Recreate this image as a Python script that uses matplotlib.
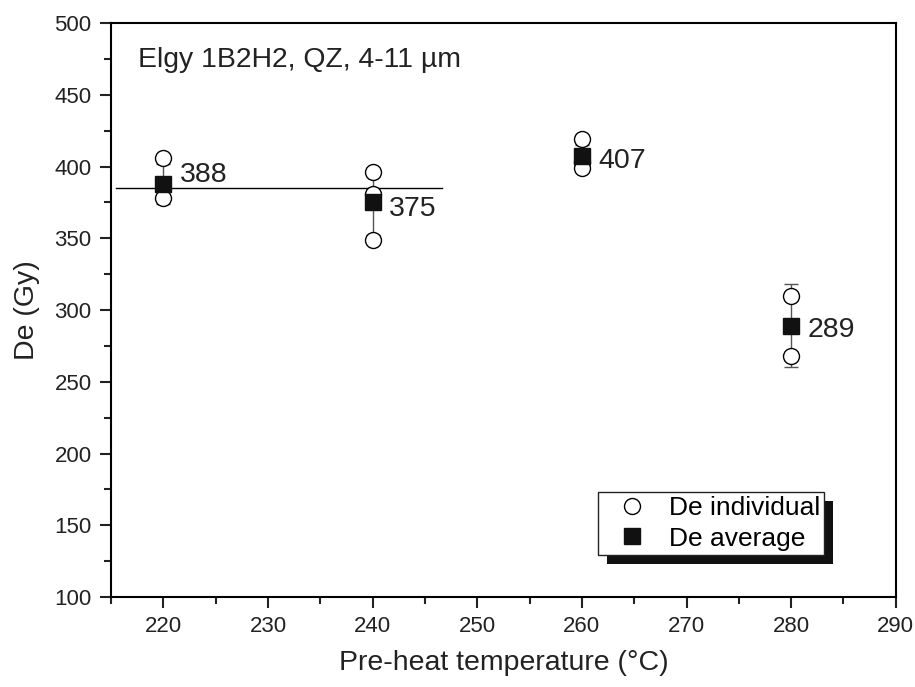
import matplotlib
matplotlib.use("Agg")
import matplotlib.pyplot as plt
from matplotlib.patches import Rectangle
from matplotlib.transforms import IdentityTransform
from matplotlib.ticker import MultipleLocator

plt.rcParams['font.family'] = ['Liberation Sans', 'DejaVu Sans']

# individual De values
ind_x = [220, 220, 240, 240, 240, 260, 260, 260, 280, 280]
ind_y = [406, 378, 396, 381, 349, 419, 403, 399, 310, 268]
# averages
avg_x = [220, 240, 260, 280]
avg_y = [388, 375, 407, 289]
avg_err = [14, 23, 8, 29]
avg_labels = ["388", "375", "407", "289"]
label_dy = [6.5, -5, -3, -3]
# reference line
ref_x = [215.5, 246.6]
ref_y = [385, 385]

fig = plt.figure(figsize=(9.15, 6.87), dpi=100)
ax = fig.add_axes([0.1213, 0.131, 0.8577, 0.8355])

ax.plot(ref_x, ref_y, color='black', lw=1.0, zorder=1)
ax.errorbar(avg_x, avg_y, yerr=avg_err, fmt='none', ecolor='#555555', elinewidth=1.0,
            capsize=5, capthick=1.0, zorder=2)
ax.plot(ind_x, ind_y, 'o', mfc='white', mec='black', mew=1.0, ms=11.5, ls='none',
        label='De individual', zorder=3)
ax.plot(avg_x, avg_y, 's', mfc='#111111', mec='#111111', ms=11, ls='none',
        label='De average', zorder=4)

for x, y, t, dy in zip(avg_x, avg_y, avg_labels, label_dy):
    ax.annotate(t, (x, y), xytext=(12, dy), textcoords='offset points',
                fontsize=20.5, va='center', ha='left', color='#222222')

ax.text(0.035, 0.935, "Elgy 1B2H2, QZ, 4-11 µm", transform=ax.transAxes,
        fontsize=20.4, ha='left', va='center', color='#222222')

ax.set_xlim(215, 290)
ax.set_ylim(100, 500)
ax.xaxis.set_major_locator(MultipleLocator(10))
ax.xaxis.set_minor_locator(MultipleLocator(5))
ax.yaxis.set_major_locator(MultipleLocator(50))
ax.yaxis.set_minor_locator(MultipleLocator(25))
ax.tick_params(which='both', direction='out', top=False, right=False, width=1.5,
               labelsize=16, colors='#222222')
ax.tick_params(which='major', length=8, pad=6)
ax.tick_params(which='minor', length=5)
for s in ax.spines.values():
    s.set_linewidth(1.5)
ax.set_xlabel("Pre-heat temperature (°C)", fontsize=20.5, labelpad=9, color='#222222')
ax.set_ylabel("De (Gy)", fontsize=20.5, labelpad=10, color='#222222')

leg = ax.legend(loc='upper left', bbox_to_anchor=((598 - 111) / 785, 1 - (492 - 23) / 574),
                frameon=True, fontsize=19, fancybox=False, edgecolor='#222222',
                framealpha=1, borderpad=0.15, handletextpad=0.25, labelspacing=0.25,
                borderaxespad=0, handlelength=2.3)
leg.get_frame().set_linewidth(1.0)
leg.set_zorder(10)

fig.canvas.draw()
bb = leg.get_window_extent()
off = 9
shadow = Rectangle((bb.x0 + off, bb.y0 - off), bb.width, bb.height,
                   transform=IdentityTransform(),
                   facecolor='#111111', edgecolor='none', zorder=9, clip_on=False)
ax.add_artist(shadow)

fig.savefig("out.png", dpi=100)
